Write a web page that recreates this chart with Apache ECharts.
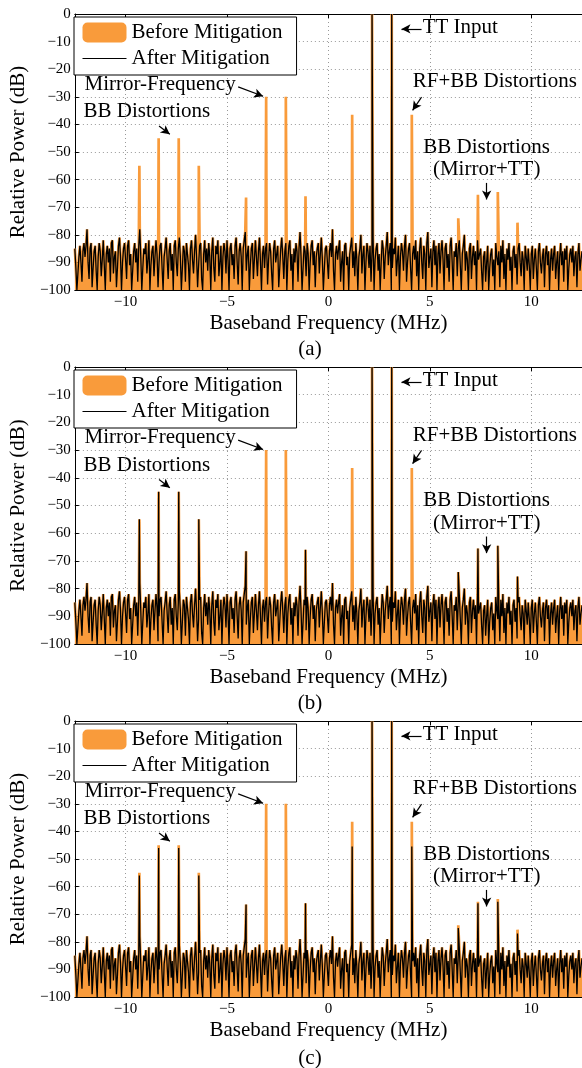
<!DOCTYPE html>
<html>
<head>
<meta charset="utf-8">
<script src="https://cdn.jsdelivr.net/npm/echarts@6/dist/echarts.min.js"></script>
<style>
html, body { margin: 0; padding: 0; background: #fff; }
#chart { width: 582px; height: 1068px; }
</style>
</head>
<body>
<div id="chart"></div>
<script>
// x axis ticks (MHz) and y axis range (dB)
var freqTicks = [-10, -5, 0, 5, 10];
var powerMin = -100, powerMax = 0;

// noise floor, one value every 0.05 MHz from -12.5 MHz
var noiseStart = -12.5;
var noiseStep = 0.05;
var noiseFloor = [
  -85, -92, -100, -94, -88, -84, -90, -97, -86, -83,
  -88, -84, -78, -90, -96, -85, -83, -99, -92, -86,
  -84, -93, -100, -88, -83, -86, -95, -89, -82, -91,
  -100, -87, -84, -90, -85, -97, -83, -82, -94, -88,
  -86, -99, -92, -84, -81, -88, -100, -90, -85, -83,
  -89, -96, -84, -82, -91, -87, -100, -93, -86, -83,
  -90, -85, -97, -84, -78, -88, -100, -92, -85, -87,
  -83, -94, -89, -82, -100, -91, -86, -84, -95, -88,
  -82, -87, -99, -90, -84, -83, -92, -100, -88, -85,
  -81, -89, -96, -86, -83, -93, -87, -100, -84, -82,
  -90, -95, -85, -81, -88, -100, -92, -84, -86, -97,
  -83, -87, -91, -100, -85, -82, -89, -94, -86, -80,
  -88, -99, -91, -84, -83, -96, -100, -87, -82, -90,
  -85, -93, -83, -88, -100, -86, -81, -92, -97, -84,
  -87, -82, -95, -90, -84, -100, -88, -83, -86, -94,
  -82, -89, -100, -85, -83, -91, -87, -96, -84, -81,
  -90, -98, -86, -83, -88, -100, -85, -82, -79, -93,
  -87, -84, -100, -91, -85, -83, -96, -89, -82, -88,
  -95, -86, -81, -90, -100, -87, -84, -92, -85, -83,
  -98, -89, -83, -86, -94, -100, -85, -82, -90, -87,
  -84, -99, -92, -85, -81, -88, -96, -86, -83, -100,
  -89, -84, -82, -93, -87, -100, -85, -90, -83, -86,
  -97, -85, -79, -88, -100, -92, -84, -86, -95, -83,
  -87, -100, -90, -84, -82, -91, -86, -99, -88, -85,
  -83, -94, -87, -81, -89, -100, -92, -85, -84, -90,
  -96, -86, -83, -88, -78, -93, -100, -87, -84, -89,
  -85, -82, -97, -90, -86, -100, -84, -83, -91, -88,
  -100, -87, -84, -81, -92, -86, -95, -83, -89, -100,
  -88, -85, -80, -94, -87, -84, -100, -90, -83, -86,
  -92, -84, -97, -86, -81, -100, -89, -85, -83, -93,
  -87, -100, -90, -82, -85, -96, -88, -84, -79, -91,
  -86, -83, -100, -92, -85, -87, -81, -95, -89, -84,
  -100, -88, -83, -86, -93, -84, -80, -97, -90, -85,
  -83, -92, -100, -87, -84, -89, -82, -95, -86, -100,
  -85, -81, -90, -96, -84, -87, -100, -83, -79, -92,
  -88, -85, -99, -86, -82, -91, -84, -100, -87, -83,
  -94, -86, -82, -89, -100, -85, -83, -92, -87, -97,
  -84, -81, -90, -100, -86, -88, -83, -95, -85, -82,
  -91, -100, -87, -84, -80, -93, -86, -89, -100, -85,
  -83, -96, -88, -84, -91, -86, -100, -82, -89, -87,
  -85, -93, -100, -88, -86, -97, -90, -84, -100, -92,
  -87, -85, -95, -89, -100, -83, -88, -91, -86, -99,
  -84, -90, -82, -96, -87, -100, -85, -89, -83, -93,
  -88, -100, -86, -84, -92, -87, -98, -85, -83, -90,
  -95, -86, -89, -100, -84, -88, -93, -85, -91, -100,
  -87, -84, -96, -89, -85, -92, -100, -86, -83, -90,
  -94, -88, -85, -99, -87, -84, -91, -86, -100, -89,
  -85, -93, -87, -84, -96, -90, -86, -100, -88, -83,
  -91, -86, -97, -85, -89, -84, -100, -92, -87, -85,
  -90, -84, -95, -88, -86, -99, -87, -83, -93, -89,
  -86
];

// spur frequencies (MHz) and their peak levels (dB); null = removed
var spurFreq   = [-9.32, -8.37, -7.38, -6.39, -4.06, -3.07, -2.10, -1.13, 1.17, 2.15, 3.12, 4.11, 6.40, 7.37, 8.35, 9.32];
var spurBefore = [-55, -45, -45, -55, -66.5, -30, -30, -66, -36.5, 0, 0, -36.5, -74, -65.5, -64.5, -75.6];
var spurAfterA = [null, null, null, null, null, null, null, null, null, 0, 0, null, null, null, null, null];
var spurAfterB = [-55, -45, -45, -55, -66.5, null, null, -66, null, 0, 0, null, -74, -65.5, -64.5, -75.6];
var spurAfterC = [-56, -46, -46, -56, -66.5, null, null, -66, -45.5, 0, 0, -45.5, -75, -66, -65.5, -77];

var ORANGE = '#F99B3B';
var FONT = 'Liberation Serif';

function buildSpectrum(spurs) {
  var pts = noiseFloor.map(function (v, i) {
    return [+(noiseStart + i * noiseStep).toFixed(3), v];
  });
  spurFreq.forEach(function (f, k) {
    if (spurs[k] !== null) pts.push([f, spurs[k]]);
  });
  pts.sort(function (a, b) { return a[0] - b[0]; });
  return pts;
}

function minusFmt(v) {
  return v < 0 ? '\u2212' + Math.abs(v) : String(v);
}

var panels = [
  { top: 14, height: 276, caption: '(a)', captionY: 349, after: spurAfterA },
  { top: 367, height: 277, caption: '(b)', captionY: 703, after: spurAfterB },
  { top: 721, height: 276, caption: '(c)', captionY: 1058, after: spurAfterC }
];

var grids = [], xAxes = [], yAxes = [], series = [], legends = [], graphics = [];

var noteLabel = { show: true, position: 'inside', color: '#000', fontFamily: FONT, fontSize: 21 };
function note(text, x, y) {
  return { coord: [x, y], value: text, label: Object.assign({ formatter: text }, noteLabel) };
}
function arrow(x1, y1, x2, y2) {
  return [{ coord: [x1, y1] }, { coord: [x2, y2] }];
}

panels.forEach(function (p, i) {
  grids.push({ left: 70, right: 0, top: p.top, height: p.height, containLabel: false });

  xAxes.push({
    type: 'value', gridIndex: i, min: -12.5, max: 12.5,
    name: 'Baseband Frequency (MHz)', nameLocation: 'middle', nameGap: 23,
    nameTextStyle: { fontFamily: FONT, fontSize: 21, color: '#000' },
    axisLine: { show: true, onZero: false, lineStyle: { color: '#000', width: 1 } },
    axisTick: { show: true, inside: true, length: 4, customValues: freqTicks, lineStyle: { color: '#000' } },
    axisLabel: { customValues: freqTicks, formatter: minusFmt, margin: 5, fontFamily: FONT, fontSize: 15, color: '#000' },
    splitLine: { show: true, lineStyle: { color: '#999', type: [1, 3], width: 1 } }
  });
  xAxes.push({
    type: 'value', gridIndex: i, min: -12.5, max: 12.5, position: 'top',
    axisLine: { show: true, onZero: false, lineStyle: { color: '#000', width: 1 } },
    axisTick: { show: true, inside: true, length: 4, customValues: freqTicks, lineStyle: { color: '#000' } },
    axisLabel: { show: false },
    splitLine: { show: false }
  });
  yAxes.push({
    type: 'value', gridIndex: i, min: powerMin, max: powerMax, interval: 10,
    name: 'Relative Power (dB)', nameLocation: 'middle', nameGap: 42,
    nameTextStyle: { fontFamily: FONT, fontSize: 21, color: '#000' },
    axisLine: { show: true, onZero: false, lineStyle: { color: '#000', width: 1 } },
    axisTick: { show: true, inside: true, length: 4, lineStyle: { color: '#000' } },
    axisLabel: { formatter: minusFmt, margin: 4, fontFamily: FONT, fontSize: 15, color: '#000' },
    splitLine: { show: true, lineStyle: { color: '#999', type: [1, 3], width: 1 } }
  });

  series.push({
    name: 'Before Mitigation', type: 'line', xAxisIndex: i * 2, yAxisIndex: i,
    data: buildSpectrum(spurBefore), symbol: 'none', silent: true,
    itemStyle: { color: ORANGE },
    lineStyle: { color: ORANGE, width: 2.7 },
    areaStyle: { color: ORANGE, opacity: 1, origin: 'start' },
    z: 2
  });
  series.push({
    name: 'After Mitigation', type: 'line', xAxisIndex: i * 2, yAxisIndex: i,
    data: buildSpectrum(p.after), symbol: 'none', silent: true,
    itemStyle: { color: '#000' },
    lineStyle: { color: '#000', width: 1.3 },
    z: 3,
    markPoint: {
      symbol: 'circle', symbolSize: 0, silent: true,
      data: [
        note('Mirror-Frequency', -8.3, -25.4),
        note('BB Distortions', -8.95, -35.5),
        note('TT Input', 6.5, -4.8),
        note('RF+BB Distortions', 8.2, -24.6),
        note('BB Distortions', 7.8, -48.2),
        note('(Mirror+TT)', 7.8, -56.5)
      ]
    },
    markLine: {
      silent: true, symbol: ['none', 'arrow'], symbolSize: [7, 9],
      label: { show: false },
      lineStyle: { color: '#000', type: 'solid', width: 1.2 },
      data: [
        arrow(-4.45, -26.4, -3.22, -29.8),
        arrow(-8.35, -40.6, -7.82, -43.6),
        arrow(4.59, -5.4, 3.6, -5.4),
        arrow(4.59, -30.1, 4.15, -34.9),
        arrow(7.8, -61.2, 7.8, -67.2)
      ]
    }
  });

  legends.push({
    orient: 'vertical', left: 74, top: p.top + 3,
    padding: [5, 14, 6, 8], itemGap: 5, itemWidth: 44, itemHeight: 20, itemTextGap: 4,
    borderColor: '#000', borderWidth: 1, backgroundColor: '#fff', selectedMode: false,
    textStyle: { fontFamily: FONT, fontSize: 21, color: '#000' },
    data: [
      { name: 'Before Mitigation', icon: 'roundRect' },
      { name: 'After Mitigation', itemStyle: { opacity: 0 }, lineStyle: { width: 1 } }
    ]
  });

  graphics.push({
    type: 'text', x: 310, y: p.captionY,
    style: { text: p.caption, fontFamily: FONT, fontSize: 21, fill: '#000', textAlign: 'center', textVerticalAlign: 'middle' }
  });
});

var chart = echarts.init(document.getElementById('chart'));
chart.setOption({
  animation: false,
  backgroundColor: '#fff',
  grid: grids,
  xAxis: xAxes,
  yAxis: yAxes,
  legend: legends,
  graphic: graphics,
  series: series
});
</script>
</body>
</html>
